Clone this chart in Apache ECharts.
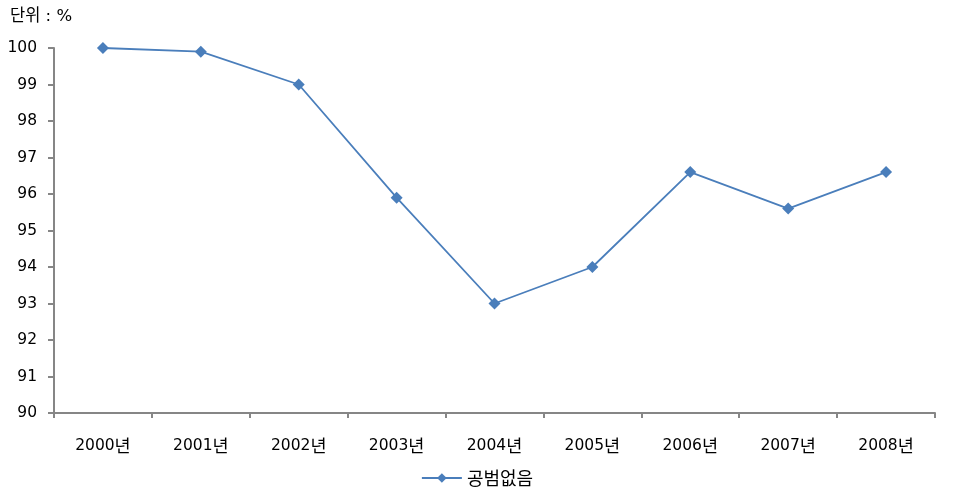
<!DOCTYPE html>
<html><head><meta charset="utf-8">
<script src="https://cdn.jsdelivr.net/npm/echarts@6/dist/echarts.min.js"></script>
<style>html,body{margin:0;padding:0;background:#fff}#c{width:954px;height:503px}</style>
</head><body><div id="c"></div>
<script>
const categories = ['2000년','2001년','2002년','2003년','2004년','2005년','2006년','2007년','2008년'];
const values = [100, 99.9, 99, 95.9, 93, 94, 96.6, 95.6, 96.6];
const seriesName = '공범없음';
const unitLabel = '단위 : %';
const yMin = 90, yMax = 100, yStep = 1;

const font = "'DejaVu Sans', 'Noto Sans CJK KR', sans-serif";
const kfont = "'Noto Sans CJK KR', sans-serif";
const chart = echarts.init(document.getElementById('c'), null, {renderer:'canvas'});
chart.setOption({
  animation: false,
  textStyle: {fontFamily: font},
  title: {text: unitLabel, left: 5, top: 3, textStyle: {fontSize: 16.5, fontWeight: 'normal', color: '#000', fontFamily: font}},
  grid: {left: 54, right: 19, top: 48, bottom: 90},
  legend: {bottom: 11, left: 'center', itemWidth: 40, itemHeight: 12, itemGap: 10, textStyle: {fontSize: 18, color: '#000', fontFamily: kfont}, data: [seriesName]},
  xAxis: {type: 'category', data: categories, boundaryGap: true,
    axisLine: {lineStyle: {color: '#868686', width: 2}},
    axisTick: {show: true, interval: 0, length: 5, lineStyle: {color: '#868686', width: 2}},
    axisLabel: {interval: 0, fontSize: 15.5, color: '#000', margin: 24, fontFamily: font,
      formatter: function (v) { return v.replace('년', '') + '{k|년}'; },
      rich: {k: {fontSize: 17.5, fontFamily: kfont, color: '#000'}}}},
  yAxis: {type: 'value', min: yMin, max: yMax, interval: yStep,
    axisLine: {show: true, lineStyle: {color: '#868686', width: 2}},
    axisTick: {show: true, length: 6, lineStyle: {color: '#868686', width: 2}},
    splitLine: {show: false},
    axisLabel: {fontSize: 15.5, color: '#000', margin: 17, fontFamily: font}},
  series: [{name: seriesName, type: 'line', data: values, symbol: 'diamond', symbolSize: 12,
    itemStyle: {color: '#4a7ebb'}, lineStyle: {color: '#4a7ebb', width: 1.8}}]
});
</script></body></html>
